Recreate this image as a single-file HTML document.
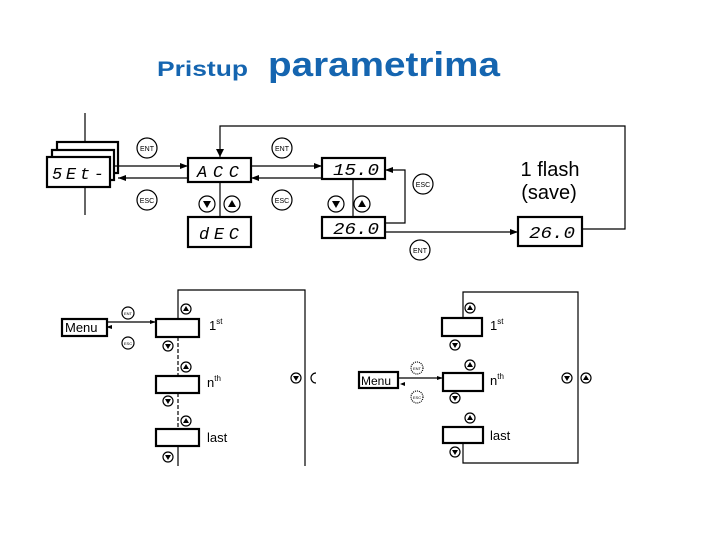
<!DOCTYPE html>
<html><head><meta charset="utf-8"><style>
html,body{margin:0;padding:0;background:#fff;}
svg{display:block;font-family:"Liberation Sans",sans-serif;}
.b{fill:#fff;stroke:#000;stroke-width:2.2;}
.l{stroke:#000;stroke-width:1.2;fill:none;}
.c{fill:#fff;stroke:#000;stroke-width:1.2;}
.ct{font-size:7px;text-anchor:middle;}
.seg{font-family:"Liberation Mono",monospace;font-style:italic;font-size:17px;}
</style></head><body>
<svg width="720" height="540" viewBox="0 0 720 540">
<defs>
<marker id="a" markerWidth="8" markerHeight="6" refX="8" refY="3" orient="auto" markerUnits="userSpaceOnUse"><path d="M0,0L8,3L0,6z"/></marker>
<marker id="s" markerWidth="6" markerHeight="4" refX="6" refY="2" orient="auto" markerUnits="userSpaceOnUse"><path d="M0,0L6,2L0,4z"/></marker>
</defs>
<text x="157" y="76" font-size="21" font-weight="bold" fill="#1565b0" textLength="91" lengthAdjust="spacingAndGlyphs">Pristup</text>
<text x="268" y="76" font-size="34" font-weight="bold" fill="#1565b0" textLength="232" lengthAdjust="spacingAndGlyphs">parametrima</text>

<!-- top diagram -->
<line class="l" x1="85" y1="113" x2="85" y2="215"/>
<rect class="b" x="57" y="142" width="61" height="31"/>
<rect class="b" x="52" y="150" width="62" height="30"/>
<rect class="b" x="47" y="157" width="63" height="30"/>
<text class="seg" x="52" y="179" textLength="52" lengthAdjust="spacing">5Et-</text>
<line class="l" x1="114" y1="166" x2="188" y2="166" marker-end="url(#a)"/>
<line class="l" x1="188" y1="178" x2="118" y2="178" marker-end="url(#a)"/>
<rect class="b" x="188" y="158" width="63" height="24"/>
<text class="seg" x="197" y="177" textLength="42" lengthAdjust="spacing">ACC</text>
<rect class="b" x="188" y="217" width="63" height="30"/>
<text class="seg" x="199" y="239" textLength="40" lengthAdjust="spacing">dEC</text>
<line class="l" x1="220" y1="182" x2="220" y2="217"/>
<polyline class="l" points="220,158 220,126 625,126 625,229 582,229"/>
<path d="M216,149L224,149L220,157z"/>
<line class="l" x1="251" y1="166" x2="322" y2="166" marker-end="url(#a)"/>
<line class="l" x1="322" y1="178" x2="251" y2="178" marker-end="url(#a)"/>
<rect class="b" x="322" y="158" width="63" height="21"/>
<text class="seg" x="333" y="175" textLength="46" lengthAdjust="spacingAndGlyphs">15.0</text>
<rect class="b" x="322" y="217" width="63" height="21"/>
<text class="seg" x="333" y="234" textLength="46" lengthAdjust="spacingAndGlyphs">26.0</text>
<line class="l" x1="353" y1="179" x2="353" y2="217"/>
<polyline class="l" points="385,223 405,223 405,170 385,170" marker-end="url(#a)"/>
<line class="l" x1="385" y1="232" x2="518" y2="232" marker-end="url(#a)"/>
<rect class="b" x="518" y="217" width="64" height="29"/>
<text class="seg" x="529" y="238" textLength="46" lengthAdjust="spacingAndGlyphs">26.0</text>
<text x="550" y="176" font-size="20" text-anchor="middle">1 flash</text>
<text x="549" y="199" font-size="20" text-anchor="middle">(save)</text>
<g>
<circle class="c" cx="147" cy="148" r="10"/><text class="ct" x="147" y="151">ENT</text>
<circle class="c" cx="147" cy="200" r="10"/><text class="ct" x="147" y="203">ESC</text>
<circle class="c" cx="282" cy="148" r="10"/><text class="ct" x="282" y="151">ENT</text>
<circle class="c" cx="282" cy="200" r="10"/><text class="ct" x="282" y="203">ESC</text>
<circle class="c" cx="423" cy="184" r="10"/><text class="ct" x="423" y="187">ESC</text>
<circle class="c" cx="420" cy="250" r="10"/><text class="ct" x="420" y="253">ENT</text>
</g>
<g>
<circle class="c" cx="207" cy="204" r="8"/><path d="M203,201L211,201L207,208z"/>
<circle class="c" cx="232" cy="204" r="8"/><path d="M228,207L236,207L232,200z"/>
<circle class="c" cx="336" cy="204" r="8"/><path d="M332,201L340,201L336,208z"/>
<circle class="c" cx="362" cy="204" r="8"/><path d="M358,207L366,207L362,200z"/>
</g>

<!-- bottom left -->
<rect class="b" x="62" y="319" width="45" height="17" stroke-width="1.8"/>
<text x="65" y="332" font-size="13">Menu</text>
<line class="l" x1="107" y1="322" x2="156" y2="322" marker-end="url(#s)" stroke-width="0.8"/>
<path d="M106,327L112,325L112,329z"/>
<circle class="c" cx="128" cy="313" r="6" stroke-width="0.6"/><text x="128" y="315" font-size="4" text-anchor="middle">ENT</text>
<circle class="c" cx="128" cy="343" r="6" stroke-width="0.6"/><text x="128" y="345" font-size="4" text-anchor="middle">ESC</text>
<polyline class="l" points="178,319 178,290 305,290 305,466"/>
<line class="l" x1="178" y1="337" x2="178" y2="376" stroke-dasharray="4,2"/>
<line class="l" x1="178" y1="393" x2="178" y2="429" stroke-dasharray="4,2"/>
<line class="l" x1="178" y1="446" x2="178" y2="466"/>
<rect class="b" x="156" y="319" width="43" height="18"/>
<rect class="b" x="156" y="376" width="43" height="17" stroke-width="1.4"/>
<rect class="b" x="156" y="429" width="43" height="17"/>
<text x="209" y="330" font-size="13">1<tspan font-size="8" dy="-6">st</tspan></text>
<text x="207" y="387" font-size="13">n<tspan font-size="8" dy="-6">th</tspan></text>
<text x="207" y="442" font-size="13">last</text>
<g stroke-width="0.8">
<circle class="c" cx="186" cy="309" r="5"/><path d="M183,311L189,311L186,306z"/>
<circle class="c" cx="168" cy="346" r="5"/><path d="M165,344L171,344L168,349z"/>
<circle class="c" cx="186" cy="367" r="5"/><path d="M183,369L189,369L186,364z"/>
<circle class="c" cx="168" cy="401" r="5"/><path d="M165,399L171,399L168,404z"/>
<circle class="c" cx="186" cy="421" r="5"/><path d="M183,423L189,423L186,418z"/>
<circle class="c" cx="168" cy="457" r="5"/><path d="M165,455L171,455L168,460z"/>
<circle class="c" cx="296" cy="378" r="5"/><path d="M293,376L299,376L296,381z"/>
<path d="M316,373A5,5 0 0 0 316,383" class="l"/>
</g>

<!-- bottom right -->
<polyline class="l" points="463,318 463,292 578,292 578,463 463,463 463,443"/>
<rect class="b" x="442" y="318" width="40" height="18"/>
<rect class="b" x="443" y="373" width="40" height="18"/>
<rect class="b" x="443" y="427" width="40" height="16"/>
<rect class="b" x="359" y="372" width="39" height="16" stroke-width="1.8"/>
<text x="361" y="385" font-size="12">Menu</text>
<line class="l" x1="398" y1="378" x2="443" y2="378" marker-end="url(#s)" stroke-width="0.8"/>
<path d="M400,384L405,382L405,386z"/>
<circle class="c" cx="417" cy="368" r="6" stroke-width="0.6" stroke-dasharray="1,1"/><text x="417" y="370" font-size="4" text-anchor="middle">ENT</text>
<circle class="c" cx="417" cy="397" r="6" stroke-width="0.6" stroke-dasharray="1,1"/><text x="417" y="399" font-size="4" text-anchor="middle">ESC</text>
<text x="490" y="330" font-size="13">1<tspan font-size="8" dy="-6">st</tspan></text>
<text x="490" y="385" font-size="13">n<tspan font-size="8" dy="-6">th</tspan></text>
<text x="490" y="440" font-size="13">last</text>
<g stroke-width="0.8">
<circle class="c" cx="470" cy="308" r="5"/><path d="M467,310L473,310L470,305z"/>
<circle class="c" cx="455" cy="345" r="5"/><path d="M452,343L458,343L455,348z"/>
<circle class="c" cx="470" cy="365" r="5"/><path d="M467,367L473,367L470,362z"/>
<circle class="c" cx="455" cy="398" r="5"/><path d="M452,396L458,396L455,401z"/>
<circle class="c" cx="470" cy="418" r="5"/><path d="M467,420L473,420L470,415z"/>
<circle class="c" cx="455" cy="452" r="5"/><path d="M452,450L458,450L455,455z"/>
<circle class="c" cx="567" cy="378" r="5"/><path d="M564,376L570,376L567,381z"/>
<circle class="c" cx="586" cy="378" r="5"/><path d="M583,380L589,380L586,375z"/>
</g>
</svg>
</body></html>
